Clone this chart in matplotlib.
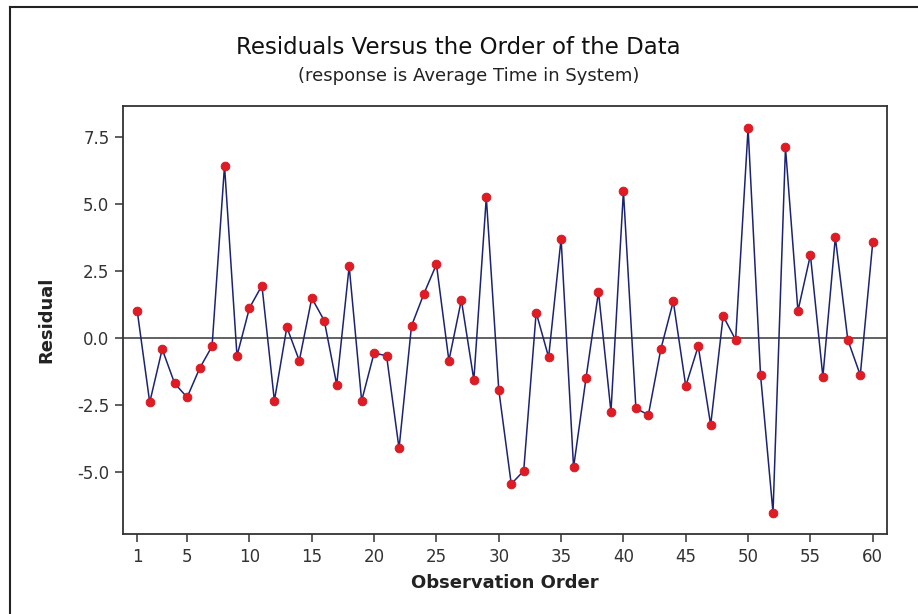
import matplotlib
matplotlib.use("Agg")
import matplotlib.pyplot as plt
from matplotlib.lines import Line2D
import numpy as np

# Residuals in observation order
order = list(range(1, 61))
residuals = [
    1.00, -2.41, -0.42, -1.70, -2.22, -1.14, -0.31, 6.44, -0.67, 1.12,
    1.96, -2.35, 0.40, -0.85, 1.49, 0.65, -1.75, 2.68, -2.35, -0.56,
    -0.67, -4.13, 0.45, 1.66, 2.75, -0.85, 1.42, -1.57, 5.26, -1.94,
    -5.46, -4.97, 0.95, -0.72, 3.71, -4.84, -1.50, 1.72, -2.76, 5.49,
    -2.63, -2.88, -0.42, 1.37, -1.80, -0.31, -3.25, 0.82, -0.07, 7.84,
    -1.39, -6.53, 7.12, 1.01, 3.10, -1.45, 3.76, -0.07, -1.39, 3.57,
]
x_ticks = [1, 5, 10, 15, 20, 25, 30, 35, 40, 45, 50, 55, 60]
y_ticks = [-5.0, -2.5, 0.0, 2.5, 5.0, 7.5]

title = "Residuals Versus the Order of the Data"
subtitle = "(response is Average Time in System)"
xlabel = "Observation Order"
ylabel = "Residual"

fonts = ["Liberation Sans Narrow", "DejaVu Sans Condensed", "DejaVu Sans"]
plt.rcParams["font.family"] = fonts

W, H = 918, 614
fig = plt.figure(figsize=(W / 100, H / 100), dpi=100)
fig.patch.set_facecolor("white")

ax = fig.add_axes([123.3 / W, 1 - 534 / H, (886.7 - 123.3) / W, (534 - 105.5) / H])

ax.axhline(0, color="#555555", lw=1.3, zorder=1)
ax.plot(order, residuals, color="#1c2373", lw=1.1, zorder=2)
ax.plot(order, residuals, "o", ms=6.3, mfc="#e01b24", mec="#d01820",
        mew=0.6, zorder=3, linestyle="none")

ax.set_xlim(-0.12, 61.12)
ax.set_ylim(-7.33, 8.69)
ax.set_xticks(x_ticks)
ax.set_xticklabels([str(t) for t in x_ticks])
ax.set_yticks(y_ticks)
ax.set_yticklabels([f"{t:.1f}" for t in y_ticks])

for s in ax.spines.values():
    s.set_color("#333333")
    s.set_linewidth(1.3)
ax.tick_params(direction="out", length=6, width=1.1, color="#333333",
               labelsize=12, labelcolor="#333333", pad=4)

ax.set_xlabel(xlabel, fontsize=13, fontweight="bold", color="#222222", labelpad=6)
ax.set_ylabel(ylabel, fontsize=13, fontweight="bold", color="#222222", labelpad=16)

fig.text(458 / W, 1 - 48 / H, title, ha="center", va="center",
         fontsize=16.5, color="#111111")
fig.text(469 / W, 1 - 76 / H, subtitle, ha="center", va="center",
         fontsize=13, color="#222222")

# outer frame (top and left edges)
fig.add_artist(Line2D([9.5 / W, 9.5 / W], [0, 1 - 6.5 / H],
                      transform=fig.transFigure, color="#222222", lw=1.5))
fig.add_artist(Line2D([9.5 / W, 1], [1 - 6.5 / H, 1 - 6.5 / H],
                      transform=fig.transFigure, color="#222222", lw=1.5))

fig.savefig("out.png", dpi=100, facecolor="white")
